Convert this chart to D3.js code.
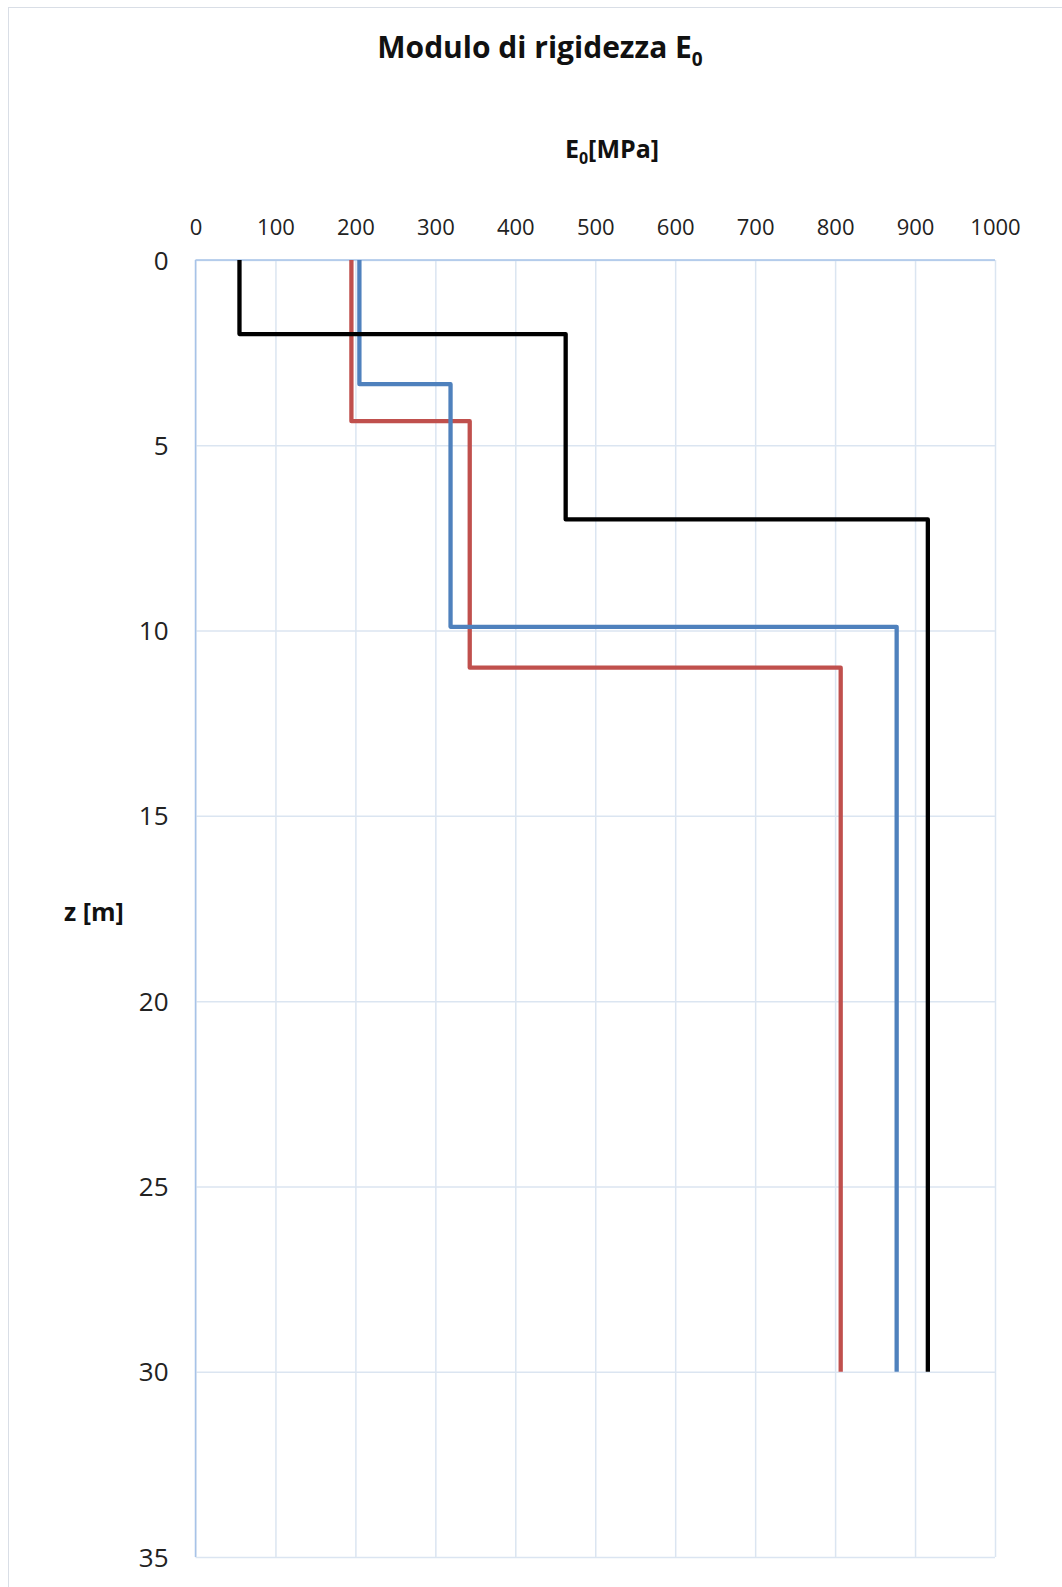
<!DOCTYPE html>
<html>
<head>
<meta charset="utf-8">
<script src="https://cdn.jsdelivr.net/npm/d3@7"></script>
<style>
  body { margin: 0; background: #fff; }
  text { font-family: "Open Sans", "Liberation Sans", sans-serif; }
</style>
</head>
<body>
<script>
// dati: profili a gradini E0 [MPa] vs profondità z [m]
var xTicks = [0, 100, 200, 300, 400, 500, 600, 700, 800, 900, 1000];
var zTicks = [0, 5, 10, 15, 20, 25, 30, 35];

var seriesBlack = [[55, 0], [55, 2], [463, 2], [463, 7], [916, 7], [916, 30]];
var seriesBlue  = [[205, 0], [205, 3.35], [319, 3.35], [319, 9.9], [877, 9.9], [877, 30]];
var seriesRed   = [[195, 0], [195, 4.35], [343, 4.35], [343, 11], [807, 11], [807, 30]];

var seriesList = [
  { data: seriesRed, color: "#c0504d" },
  { data: seriesBlue, color: "#4f81bd" },
  { data: seriesBlack, color: "#000000" }
];

var W = 1062, H = 1587;
var pLeft = 195.5, pRight = 995, pTop = 260, pBottom = 1557;

var svg = d3.select("body").append("svg").attr("width", W).attr("height", H);

// cornice esterna
svg.append("rect").attr("x", 8.5).attr("y", 7.5).attr("width", W).attr("height", H)
  .attr("fill", "none").attr("stroke", "#d9dee6").attr("stroke-width", 1);

var x = d3.scaleLinear().domain([0, 1000]).range([pLeft, pRight]);
var y = d3.scaleLinear().domain([0, 35]).range([pTop, pBottom]);

// griglia verticale
svg.append("g").attr("transform", "translate(0," + pTop + ")")
  .call(d3.axisTop(x).tickValues(xTicks).tickSize(-(pBottom - pTop)).tickFormat(""))
  .call(function (g) {
    g.select(".domain").remove();
    g.selectAll("line").attr("stroke", "#dbe5f1").attr("stroke-width", 1.5);
  });
// griglia orizzontale
svg.append("g").attr("transform", "translate(" + pLeft + ",0)")
  .call(d3.axisLeft(y).tickValues(zTicks).tickSize(-(pRight - pLeft)).tickFormat(""))
  .call(function (g) {
    g.select(".domain").remove();
    g.selectAll("line").attr("stroke", "#dbe5f1").attr("stroke-width", 1.5);
  });

// linee degli assi
svg.append("line").attr("x1", pLeft).attr("x2", pRight).attr("y1", pTop).attr("y2", pTop)
  .attr("stroke", "#a7c3e8").attr("stroke-width", 1.5);
svg.append("line").attr("x1", pLeft).attr("x2", pLeft).attr("y1", pTop).attr("y2", pBottom)
  .attr("stroke", "#a7c3e8").attr("stroke-width", 1.5);

// etichette asse x (in alto)
svg.append("g").attr("transform", "translate(0," + (pTop - 25) + ")")
  .call(d3.axisTop(x).tickValues(xTicks).tickSize(0).tickPadding(0).tickFormat(d3.format("d")))
  .call(function (g) {
    g.select(".domain").remove();
    g.selectAll("text").attr("font-size", 22).attr("fill", "#222")
      .attr("font-family", "Open Sans").attr("dy", 0);
  });

// etichette asse z (a sinistra)
svg.append("g").attr("transform", "translate(" + (pLeft - 27) + ",0)")
  .call(d3.axisLeft(y).tickValues(zTicks).tickSize(0).tickPadding(0))
  .call(function (g) {
    g.select(".domain").remove();
    g.selectAll("text").attr("font-size", 26).attr("fill", "#222")
      .attr("font-family", "Open Sans").attr("dy", "0.35em");
  });

// linee a gradini
var line = d3.line()
  .x(function (d) { return x(d[0]); })
  .y(function (d) { return y(d[1]); });

svg.selectAll(".serie").data(seriesList).enter().append("path")
  .attr("class", "serie")
  .attr("d", function (s) { return line(s.data); })
  .attr("fill", "none")
  .attr("stroke", function (s) { return s.color; })
  .attr("stroke-width", 4.3)
  .attr("stroke-linejoin", "round");

// titolo
var title = svg.append("text").attr("x", 540).attr("y", 58)
  .attr("text-anchor", "middle").attr("font-size", 30).attr("font-weight", "bold").attr("fill", "#111");
title.append("tspan").text("Modulo di rigidezza E");
title.append("tspan").attr("font-size", 19).attr("dy", 8).text("0");

// titolo asse x
var xt = svg.append("text").attr("x", 612).attr("y", 158)
  .attr("text-anchor", "middle").attr("font-size", 25).attr("font-weight", "bold").attr("fill", "#111");
xt.append("tspan").text("E");
xt.append("tspan").attr("font-size", 16).attr("dy", 6).text("0");
xt.append("tspan").attr("dy", -6).text("[MPa]");

// titolo asse z
svg.append("text").attr("x", 94).attr("y", 921)
  .attr("text-anchor", "middle").attr("font-size", 25).attr("font-weight", "bold").attr("fill", "#111")
  .text("z [m]");
</script>
</body>
</html>
